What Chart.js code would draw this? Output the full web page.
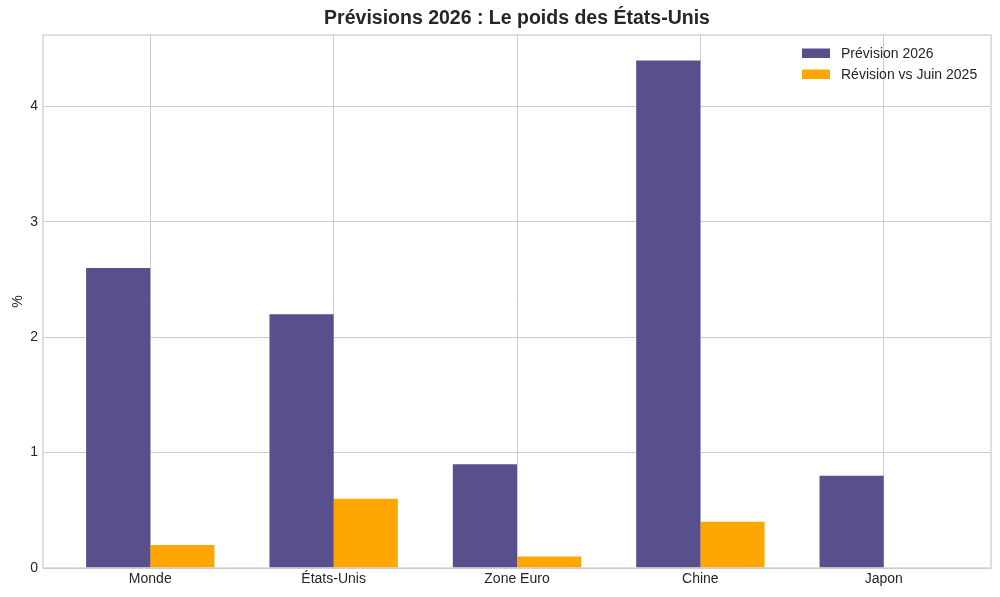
<!DOCTYPE html>
<html>
<head>
<meta charset="utf-8">
<script src="https://cdn.jsdelivr.net/npm/chart.js@4"></script>
<style>
  html, body { margin: 0; padding: 0; background: #fff; }
  #wrap { width: 1000px; height: 597px; }
</style>
</head>
<body>
<div id="wrap"><canvas id="chart" width="1000" height="597"></canvas></div>
<script>
const categories = ['Monde', 'États-Unis', 'Zone Euro', 'Chine', 'Japon'];
const prevision2026 = [2.6, 2.2, 0.9, 4.4, 0.8];
const revisionJuin = [0.2, 0.6, 0.1, 0.4, 0.0];
const yTicks = [0, 1, 2, 3, 4];
const seriesLabels = ['Prévision 2026', 'Révision vs Juin 2025'];
const seriesColors = ['#58508d', '#ffa600'];

const FONT = "'Liberation Sans', Arial, sans-serif";
const TEXT = '#262626';
const GRID = '#cccccc';

// matplotlib-like margins: 5% on each side
const barW = 0.35;
const xMin = -barW - (categories.length - 1 + 2 * barW) * 0.05;
const xMax = categories.length - 1 + barW + (categories.length - 1 + 2 * barW) * 0.05;
const yMax = Math.max(...prevision2026, ...revisionJuin) * 1.05;

const toPoints = arr => arr.map((v, i) => ({ x: i, y: v }));

const framePlugin = {
    id: 'frame',
    afterDraw(chart) {
        const ctx = chart.ctx;
        const a = chart.chartArea;
        ctx.save();
        ctx.strokeStyle = GRID;
        ctx.lineWidth = 1.25;
        ctx.strokeRect(a.left, a.top, a.right - a.left, a.bottom - a.top);

        // title
        ctx.fillStyle = TEXT;
        ctx.font = "bold 19.5px " + FONT;
        ctx.textAlign = 'center';
        ctx.textBaseline = 'middle';
        ctx.fillText('Prévisions 2026 : Le poids des États-Unis', (a.left + a.right) / 2, 19);

        // legend inside plot, upper right
        ctx.font = "14px " + FONT;
        ctx.textAlign = 'left';
        seriesLabels.forEach((lab, i) => {
            const y = 53 + i * 21;
            ctx.fillStyle = seriesColors[i];
            ctx.fillRect(802, y - 4.5, 28, 9.5);
            ctx.fillStyle = TEXT;
            ctx.fillText(lab, 841, y + 1);
        });
        ctx.restore();
    }
};

new Chart(document.getElementById('chart').getContext('2d'), {
    type: 'bar',
    data: {
        datasets: [
            {
                label: seriesLabels[0],
                data: toPoints(prevision2026),
                backgroundColor: seriesColors[0]
            },
            {
                label: seriesLabels[1],
                data: toPoints(revisionJuin),
                backgroundColor: seriesColors[1]
            }
        ]
    },
    options: {
        responsive: false,
        animation: false,
        layout: { padding: { top: 35, right: 9, left: 0, bottom: 0 } },
        datasets: {
            bar: { categoryPercentage: 2 * barW, barPercentage: 1.0, borderWidth: 0 }
        },
        plugins: {
            legend: { display: false },
            title: { display: false },
            tooltip: { enabled: false }
        },
        scales: {
            x: {
                type: 'linear',
                min: xMin,
                max: xMax,
                offset: false,
                afterBuildTicks: axis => { axis.ticks = categories.map((c, i) => ({ value: i })); },
                afterFit: axis => { axis.height = 29; },
                ticks: {
                    callback: v => categories[v],
                    color: TEXT,
                    font: { family: FONT, size: 14 },
                    padding: 3,
                    maxRotation: 0
                },
                grid: { color: GRID, lineWidth: 1, drawTicks: false, offset: false },
                border: { display: false }
            },
            y: {
                min: 0,
                max: yMax,
                afterBuildTicks: axis => { axis.ticks = yTicks.map(v => ({ value: v })); },
                afterFit: axis => { axis.width = 43; },
                ticks: {
                    color: TEXT,
                    font: { family: FONT, size: 14 },
                    padding: 5
                },
                title: {
                    display: true,
                    text: '%',
                    color: TEXT,
                    font: { family: FONT, size: 14 },
                    padding: { top: 10, bottom: 0 }
                },
                grid: { color: GRID, lineWidth: 1, drawTicks: false },
                border: { display: false }
            }
        }
    },
    plugins: [framePlugin]
});
</script>
</body>
</html>
